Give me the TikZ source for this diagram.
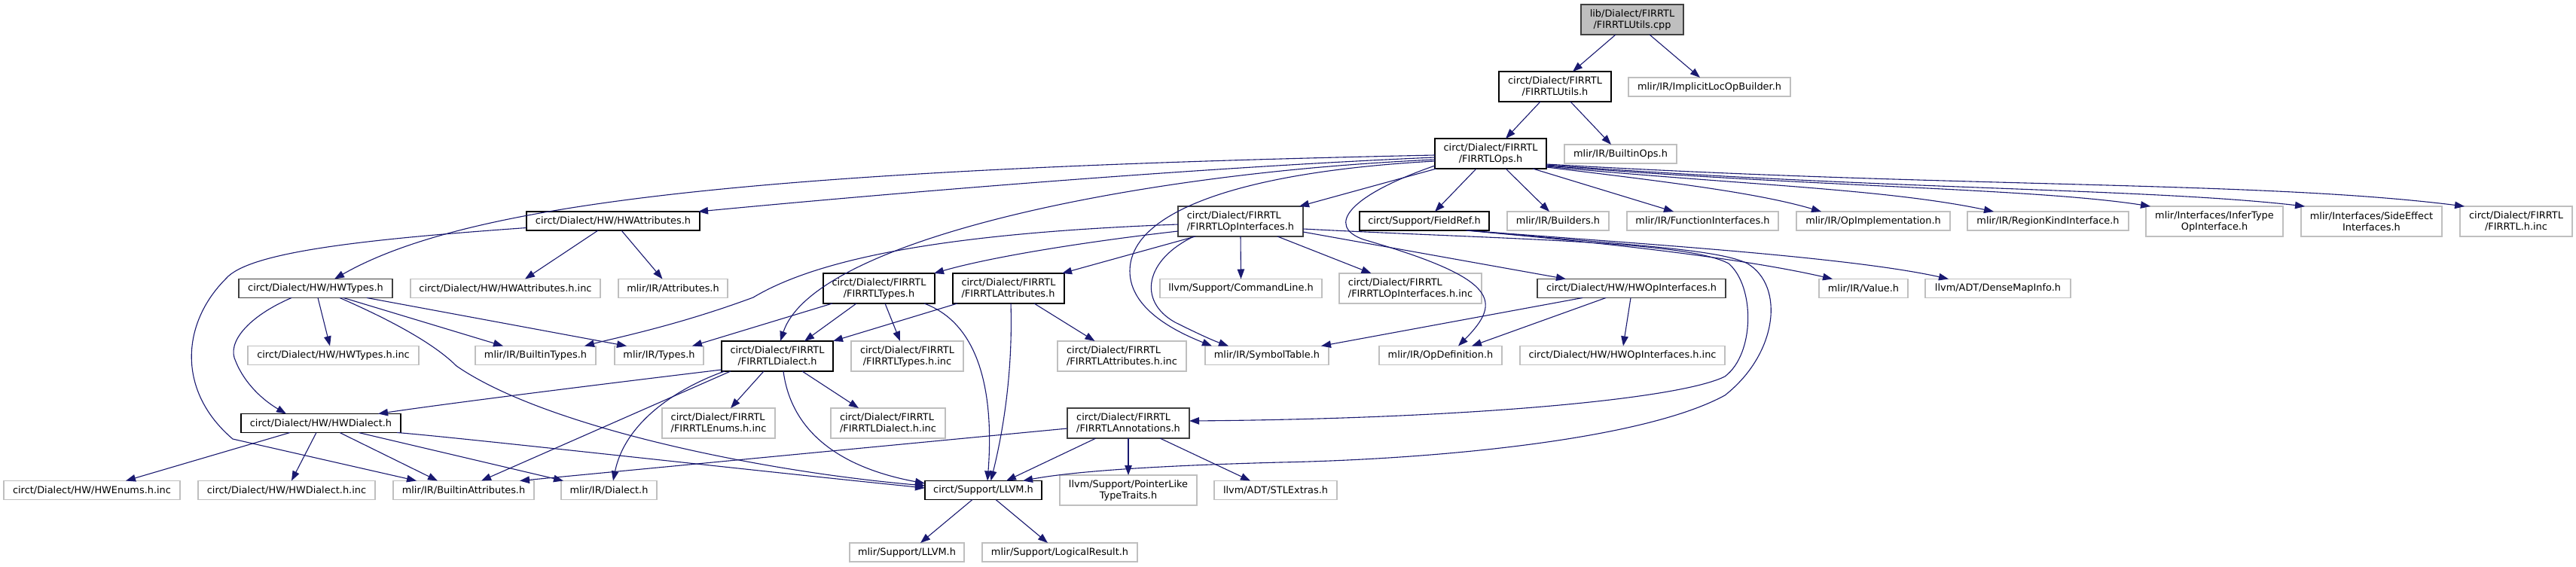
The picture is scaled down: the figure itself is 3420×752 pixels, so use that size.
\documentclass[tikz,border=0pt]{standalone}
\usepackage{fontspec}
\setmainfont{DejaVu Sans}
\usetikzlibrary{arrows.meta}
\definecolor{edgec}{HTML}{191970}
\definecolor{extc}{HTML}{BFBFBF}
\definecolor{darkb}{HTML}{404040}
\begin{document}
\begin{tikzpicture}[x=1pt,y=-1pt,
  every node/.style={font=\fontsize{12.9}{15}\selectfont, inner sep=0pt, outer sep=0pt, align=center, minimum height=25pt, line width=1.2pt},
  ext/.style={draw=extc, fill=white},
  doc/.style={draw=black, fill=white},
  docg/.style={draw=darkb, fill=white},
  rootb/.style={draw=darkb, fill=extc},
  two/.style={minimum height=40pt},
  dep/.style={draw=edgec, line width=1.1pt, -{Triangle[length=13pt,width=9.5pt]}}]

\useasboundingbox[fill=white] (0,0) rectangle (3420,752);

% nodes
\node[rootb,two,minimum width=136pt] (root) at (2167,26) {lib/Dialect/FIRRTL\\/FIRRTLUtils.cpp};
\node[doc,two,minimum width=149pt] (utilsh) at (2064.5,115) {circt/Dialect/FIRRTL\\/FIRRTLUtils.h};
\node[ext,minimum width=215pt] (implicit) at (2269.5,115.5) {mlir/IR/ImplicitLocOpBuilder.h};
\node[doc,two,minimum width=148pt] (ops) at (1979,204) {circt/Dialect/FIRRTL\\/FIRRTLOps.h};
\node[ext,minimum width=149pt] (builtinops) at (2151.5,204.5) {mlir/IR/BuiltinOps.h};
\node[doc,minimum width=230pt] (hwattr) at (814,293.5) {circt/Dialect/HW/HWAttributes.h};
\node[docg,two,minimum width=166pt,align=left] (opif) at (1647,294) {circt/Dialect/FIRRTL\\/FIRRTLOpInterfaces.h};
\node[doc,minimum width=172pt] (fieldref) at (1891,293.5) {circt/Support/FieldRef.h};
\node[ext,minimum width=135pt] (builders) at (2068.5,293.5) {mlir/IR/Builders.h};
\node[ext,minimum width=201pt] (funcif) at (2260.5,293.5) {mlir/IR/FunctionInterfaces.h};
\node[ext,minimum width=204pt] (opimpl) at (2487,293.5) {mlir/IR/OpImplementation.h};
\node[ext,minimum width=214pt] (regionkind) at (2719,293.5) {mlir/IR/RegionKindInterface.h};
\node[ext,two,minimum width=182pt] (infertype) at (2940,294) {mlir/Interfaces/InferType\\OpInterface.h};
\node[ext,two,minimum width=187pt] (sideeffect) at (3148.5,294) {mlir/Interfaces/SideEffect\\Interfaces.h};
\node[ext,two,minimum width=149pt] (firrtlinc) at (3340.5,294) {circt/Dialect/FIRRTL\\/FIRRTL.h.inc};

\node[docg,minimum width=204pt] (hwtypes) at (419,383) {circt/Dialect/HW/HWTypes.h};
\node[ext,minimum width=252pt] (hwattrinc) at (671,383) {circt/Dialect/HW/HWAttributes.h.inc};
\node[ext,minimum width=145pt] (attributes) at (893.5,383) {mlir/IR/Attributes.h};
\node[doc,two,minimum width=148pt] (ftypes) at (1167,383) {circt/Dialect/FIRRTL\\/FIRRTLTypes.h};
\node[doc,two,minimum width=148pt,align=left] (fattrs) at (1339,383) {circt/Dialect/FIRRTL\\/FIRRTLAttributes.h};
\node[ext,minimum width=215pt] (cmdline) at (1647.5,383) {llvm/Support/CommandLine.h};
\node[ext,two,minimum width=189pt,align=left] (opifinc) at (1872.5,383) {circt/Dialect/FIRRTL\\/FIRRTLOpInterfaces.h.inc};
\node[docg,minimum width=250pt] (hwopif) at (2166,383) {circt/Dialect/HW/HWOpInterfaces.h};
\node[ext,minimum width=118pt] (value) at (2474,383) {mlir/IR/Value.h};
\node[ext,minimum width=193pt] (densemap) at (2652.5,383) {llvm/ADT/DenseMapInfo.h};

\node[ext,minimum width=227pt] (hwtypesinc) at (442.5,472) {circt/Dialect/HW/HWTypes.h.inc};
\node[ext,minimum width=160pt] (builtintypes) at (711,472) {mlir/IR/BuiltinTypes.h};
\node[ext,minimum width=118pt] (types) at (875,472) {mlir/IR/Types.h};
\node[doc,two,minimum width=148pt] (fdialect) at (1032,473) {circt/Dialect/FIRRTL\\/FIRRTLDialect.h};
\node[ext,two,minimum width=149pt] (ftypesinc) at (1204.5,473) {circt/Dialect/FIRRTL\\/FIRRTLTypes.h.inc};
\node[ext,two,minimum width=171pt,align=left] (fattrsinc) at (1489.5,473) {circt/Dialect/FIRRTL\\/FIRRTLAttributes.h.inc};
\node[ext,minimum width=164pt] (symtab) at (1682,472) {mlir/IR/SymbolTable.h};
\node[ext,minimum width=163pt] (opdef) at (1912.5,472) {mlir/IR/OpDefinition.h};
\node[ext,minimum width=272pt] (hwopifinc) at (2154,472) {circt/Dialect/HW/HWOpInterfaces.h.inc};

\node[doc,minimum width=212pt] (hwdialect) at (426,562) {circt/Dialect/HW/HWDialect.h};
\node[ext,two,minimum width=150pt,align=left] (fenumsinc) at (954,562) {circt/Dialect/FIRRTL\\/FIRRTLEnums.h.inc};
\node[ext,two,minimum width=152pt,align=left] (fdialectinc) at (1179,562) {circt/Dialect/FIRRTL\\/FIRRTLDialect.h.inc};
\node[docg,two,minimum width=162pt,align=left] (fannot) at (1498,562) {circt/Dialect/FIRRTL\\/FIRRTLAnnotations.h};

\node[ext,minimum width=234pt] (hwenumsinc) at (122,651) {circt/Dialect/HW/HWEnums.h.inc};
\node[ext,minimum width=235pt] (hwdialectinc) at (380.5,651) {circt/Dialect/HW/HWDialect.h.inc};
\node[ext,minimum width=187pt] (builtinattrs) at (615.5,651) {mlir/IR/BuiltinAttributes.h};
\node[ext,minimum width=127pt] (dialect) at (808.5,651) {mlir/IR/Dialect.h};
\node[doc,minimum width=155pt] (llvmh) at (1305.5,651) {circt/Support/LLVM.h};
\node[ext,two,minimum width=182pt] (ptrlike) at (1498,651) {llvm/Support/PointerLike\\TypeTraits.h};
\node[ext,minimum width=163pt] (stlextras) at (1693.5,651) {llvm/ADT/STLExtras.h};

\node[ext,minimum width=152pt] (mlirllvm) at (1204,733.5) {mlir/Support/LLVM.h};
\node[ext,minimum width=206pt] (logical) at (1407,733.5) {mlir/Support/LogicalResult.h};

% edges
\draw[dep] ([xshift=-22pt]root.south) -- ([xshift=23.5pt]utilsh.north);
\draw[dep] ([xshift=23pt]root.south) -- ([xshift=-12.5pt]implicit.north);
\draw[dep] ([xshift=-19.5pt]utilsh.south) -- ([xshift=20pt]ops.north);
\draw[dep] ([xshift=20.5pt]utilsh.south) -- ([xshift=-12.5pt]builtinops.north);

\draw[dep] ([xshift=-19pt]ops.south) -- ([xshift=14pt]fieldref.north);
\draw[dep] ([xshift=20pt]ops.south) -- ([xshift=-11.5pt]builders.north);
\draw[dep] ([xshift=56pt]ops.south) -- ([xshift=-38.5pt]funcif.north);
\draw[dep] ([yshift=-18pt]ops.east) .. controls (2200,240) and (2330,255) .. ([xshift=-69pt]opimpl.north);
\draw[dep] ([yshift=-17pt]ops.east) .. controls (2300,245) and (2500,250) .. ([xshift=-72pt]regionkind.north);
\draw[dep] ([yshift=-16pt]ops.east) .. controls (2400,248) and (2700,250) .. ([xshift=6pt]infertype.north west);
\draw[dep] ([yshift=-15pt]ops.east) .. controls (2500,252) and (2850,250) .. ([xshift=5pt]sideeffect.north west);
\draw[dep] ([yshift=-14pt]ops.east) .. controls (2600,250) and (3000,240) .. ([xshift=6pt]firrtlinc.north west);
\draw[dep] ([xshift=2pt]ops.south west) -- ([xshift=-5pt]opif.north east);
\draw[dep] ([yshift=-5pt]ops.west) .. controls (1600,222) and (1200,255) .. ([xshift=-2pt]hwattr.north east);
\draw[dep] ([yshift=-2pt]ops.west) .. controls (1000,225) and (620,270) .. ([xshift=25pt]hwtypes.north);
\draw[dep] ([yshift=-8pt]ops.west) .. controls (1500,230) and (1080,320) .. ([xshift=4pt]fdialect.north);
\draw[dep] ([yshift=-10pt]ops.west) .. controls (1650,228) and (1500,280) .. (1500,360) .. controls (1500,410) and (1560,440) .. ([xshift=9pt]symtab.north west);
\draw[dep] ([yshift=-16pt]ops.west) .. controls (1790,260) and (1760,300) .. (1810,318) .. controls (1990,370) and (1995,400) .. ([xshift=23.5pt]opdef.north);

\draw[dep] ([yshift=-13pt]opif.west) .. controls (1450,320) and (1320,340) .. ([xshift=-1pt]ftypes.north east);
\draw[dep] ([xshift=-60pt]opif.south) -- ([xshift=-3pt]fattrs.north east);
\draw[dep] (opif.south) -- (cmdline.north);
\draw[dep] ([xshift=49pt]opif.south) -- ([xshift=-52pt]opifinc.north);
\draw[dep] ([xshift=-62pt]opif.south) .. controls (1520,345) and (1510,400) .. (1560,428) .. controls (1590,443) and (1610,452) .. ([xshift=31pt]symtab.north west);
\draw[dep] ([yshift=-4pt]opif.west) .. controls (1300,308) and (1100,335) .. (1000,395) .. controls (900,432) and (820,448) .. ([xshift=-15pt]builtintypes.north east);
\draw[dep] ([yshift=-14pt]opif.east) -- ([xshift=38pt]hwopif.north west);
\draw[dep] ([yshift=-10pt]opif.east) .. controls (2000,318) and (2240,320) .. (2295,350) .. controls (2330,380) and (2330,470) .. (2290,500) .. controls (2230,530) and (1950,556) .. ([yshift=3pt]fannot.east);

\draw[dep] ([xshift=55pt]fieldref.south) .. controls (2100,320) and (2300,340) .. ([xshift=18pt]value.north west);
\draw[dep] ([xshift=57pt]fieldref.south) .. controls (2150,322) and (2450,340) .. ([xshift=31pt]densemap.north west);
\draw[dep] ([xshift=59pt]fieldref.south) .. controls (2150,325) and (2280,330) .. (2320,350) .. controls (2370,380) and (2360,470) .. (2290,525) .. controls (2180,585) and (1900,610) .. (1700,614) .. controls (1550,618) and (1430,625) .. ([xshift=-25pt]llvmh.north east);

\draw[dep] ([xshift=60pt]hwopif.south west) -- ([xshift=-10pt]symtab.north east);
\draw[dep] ([xshift=91pt]hwopif.south west) -- ([xshift=-40pt]opdef.north east);
\draw[dep] ([xshift=-1pt]hwopif.south) -- ([xshift=1pt]hwopifinc.north);

\draw[dep] ([xshift=-20pt]hwattr.south) -- ([xshift=26pt]hwattrinc.north);
\draw[dep] ([xshift=11pt]hwattr.south) -- ([xshift=-14pt]attributes.north);
\draw[dep] ([yshift=-9pt]hwattr.west) .. controls (480,318) and (330,335) .. (300,370) .. controls (240,430) and (235,520) .. (309,583) -- ([xshift=31pt]builtinattrs.north west);

\draw[dep] ([xshift=-32pt]hwtypes.south) .. controls (330,420) and (300,455) .. (313,480) .. controls (325,510) and (350,532) .. ([xshift=-46pt]hwdialect.north);
\draw[dep] ([xshift=3pt]hwtypes.south) -- ([xshift=-4.5pt]hwtypesinc.north);
\draw[dep] ([xshift=37pt]hwtypes.south) -- ([xshift=37pt]builtintypes.north west);
\draw[dep] ([xshift=68pt]hwtypes.south) -- ([xshift=16pt]types.north west);
\draw[dep] ([xshift=32pt]hwtypes.south) .. controls (530,430) and (580,460) .. (606,486) .. controls (720,565) and (1000,625) .. ([yshift=6pt]llvmh.west);

\draw[dep] ([xshift=-41pt]hwdialect.south) -- ([xshift=45pt]hwenumsinc.north);
\draw[dep] ([xshift=-6pt]hwdialect.south) -- ([xshift=6.5pt]hwdialectinc.north);
\draw[dep] ([xshift=25pt]hwdialect.south) -- ([xshift=59pt]builtinattrs.north west);
\draw[dep] ([xshift=50pt]hwdialect.south) -- ([xshift=3pt]dialect.north west);
\draw[dep] ([xshift=-5pt]hwdialect.south east) .. controls (600,580) and (1000,625) .. ([yshift=3pt]llvmh.west);

\draw[dep] ([yshift=-18pt]fdialect.west) .. controls (800,510) and (600,535) .. ([xshift=-30pt]hwdialect.north east);
\draw[dep] ([xshift=12pt]fdialect.south west) -- ([xshift=-70pt]builtinattrs.north east);
\draw[dep] ([xshift=4pt]fdialect.south west) .. controls (900,515) and (830,560) .. ([xshift=-58pt]dialect.north east);
\draw[dep] ([xshift=-18pt]fdialect.south) -- ([xshift=16pt]fenumsinc.north);
\draw[dep] ([xshift=33pt]fdialect.south) -- ([xshift=37pt]fdialectinc.north west);
\draw[dep] ([xshift=8pt]fdialect.south) .. controls (1050,570) and (1110,620) .. ([yshift=9pt]llvmh.west);

\draw[dep] ([xshift=44pt]ftypes.south west) -- ([xshift=-38pt]fdialect.north east);
\draw[dep] ([xshift=12pt]ftypes.south west) -- ([xshift=-15pt]types.north east);
\draw[dep] ([xshift=8pt]ftypes.south) -- ([xshift=-9.5pt]ftypesinc.north);
\draw[dep] ([xshift=-14pt]ftypes.south east) .. controls (1300,430) and (1320,520) .. ([xshift=5.5pt]llvmh.north);

\draw[dep] ([xshift=6pt]fattrs.south west) -- (fdialect.north east);
\draw[dep] ([xshift=3pt]fattrs.south) .. controls (1345,500) and (1330,580) .. ([xshift=10pt]llvmh.north);
\draw[dep] ([xshift=34pt]fattrs.south) -- ([xshift=-36pt]fattrsinc.north);

\draw[dep] ([xshift=38pt]fannot.south west) -- ([xshift=-47pt]llvmh.north east);
\draw[dep] (fannot.south) -- (ptrlike.north);
\draw[dep] ([xshift=-39pt]fannot.south east) -- ([xshift=-33.5pt]stlextras.north);
\draw[dep] ([yshift=-7pt]fannot.west) -- ([xshift=-19pt]builtinattrs.north east);

\draw[dep] ([xshift=-14.5pt]llvmh.south) -- ([xshift=18pt]mlirllvm.north);
\draw[dep] ([xshift=16.5pt]llvmh.south) -- ([xshift=-16pt]logical.north);
\end{tikzpicture}
\end{document}
